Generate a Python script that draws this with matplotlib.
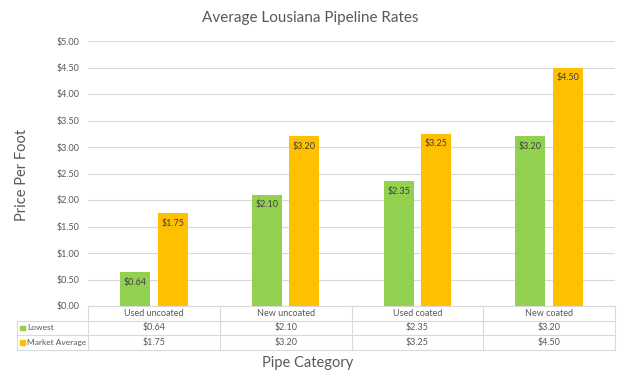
import matplotlib
matplotlib.use("Agg")
import matplotlib.pyplot as plt
from matplotlib.patches import Rectangle
from matplotlib.lines import Line2D
import numpy as np

categories = ["Used uncoated", "New uncoated", "Used coated", "New coated"]
series_names = ["Lowest", "Market Average"]
lowest = [0.64, 2.10, 2.35, 3.20]
market_avg = [1.75, 3.20, 3.25, 4.50]
yticks = [0, 0.5, 1.0, 1.5, 2.0, 2.5, 3.0, 3.5, 4.0, 4.5, 5.0]

plt.rcParams['font.family'] = ['Lato', 'DejaVu Sans']
green = "#92D050"
orange = "#FFC000"
grid_c = "#D9D9D9"
txt_c = "#595959"

W, H = 621, 382
fig = plt.figure(figsize=(W/100, H/100), dpi=100)
ax = fig.add_axes([88/W, (H-306)/H, 527/W, 265/H])

x = np.arange(len(categories))
bw = 0.228
off = 0.143
b1 = ax.bar(x - off, lowest, bw, color=green, zorder=3)
b2 = ax.bar(x + off, market_avg, bw, color=orange, zorder=3)
for bars, vals in ((b1, lowest), (b2, market_avg)):
    for r, v in zip(bars, vals):
        ax.annotate(f"${v:.2f}", (r.get_x() + r.get_width()/2, v), xytext=(0, -4),
                    textcoords="offset points", ha="center", va="top",
                    fontsize=6.5, color="#404040", zorder=4)

ax.set_xlim(-0.5, len(categories) - 0.5)
ax.set_ylim(0, 5)
ax.set_yticks(yticks)
ax.set_yticklabels([f"${t:.2f}" for t in yticks], fontsize=6.5, color=txt_c)
ax.set_xticks([])
ax.tick_params(axis='y', length=0, pad=6)
ax.yaxis.grid(True, color=grid_c, linewidth=0.8, zorder=0)
for s in ax.spines.values():
    s.set_visible(False)

# data table below the axes
rowh = 14.5 / 265
left_x = -(88 - 17) / 527
rows_y = [0, -rowh, -2*rowh, -3*rowh]
tkw = dict(transform=ax.transAxes, clip_on=False)
for yy in rows_y:
    x0 = 0 if yy == 0 else left_x
    ax.add_line(Line2D([x0, 1], [yy, yy], color=grid_c, lw=0.8, **tkw))
for i in range(len(categories) + 1):
    xx = i * 0.25
    ax.add_line(Line2D([xx, xx], [0, -3*rowh], color=grid_c, lw=0.8, **tkw))
ax.add_line(Line2D([left_x, left_x], [-rowh, -3*rowh], color=grid_c, lw=0.8, **tkw))
for i, c in enumerate(categories):
    ax.text(i*0.25 + 0.125, -0.5*rowh, c, ha="center", va="center", fontsize=6.5, color=txt_c, **tkw)
for r, (name, vals, col) in enumerate(zip(series_names, [lowest, market_avg], [green, orange])):
    yc = -(r + 1.5) * rowh
    ax.add_patch(Rectangle((left_x + 3/527, yc - 2.25/265), 4.5/527, 4.5/265, color=col, **tkw))
    ax.text(left_x + 10/527, yc, name, ha="left", va="center", fontsize=6.0, color=txt_c, **tkw)
    for i, v in enumerate(vals):
        ax.text(i*0.25 + 0.125, yc, f"${v:.2f}", ha="center", va="center", fontsize=6.5, color=txt_c, **tkw)

fig.text(0.5, 1 - 18/H, "Average Lousiana Pipeline Rates", ha="center", va="center", fontsize=11, color=txt_c)
fig.text(22/W, 1 - 175/H, "Price Per Foot", rotation=90, ha="center", va="center", fontsize=10.5, color=txt_c)
fig.text(308/W, 1 - 363/H, "Pipe Category", ha="center", va="center", fontsize=10.5, color=txt_c)

fig.savefig("out.png", dpi=100)
